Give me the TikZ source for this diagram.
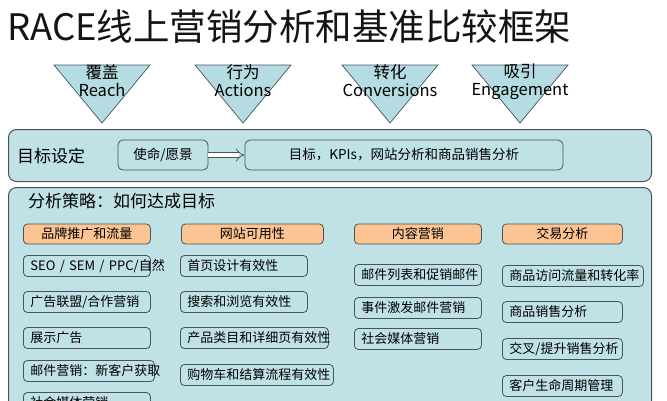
\documentclass[tikz,border=0pt]{standalone}
\usepackage{fontspec}
\setmainfont{Noto Sans CJK SC}
\usetikzlibrary{arrows.meta}

\begin{document}
\begin{tikzpicture}[x=1pt, y=-1pt,
  tri/.style={draw=edge, fill=trifill, line width=0.7pt, line join=miter},
  trilabel/.style={align=center, inner sep=0pt, anchor=north, font=\fontsize{16.5}{18}\selectfont},
  panel/.style={draw=edge, fill=panelfill, line width=1pt, rounded corners=8pt, inner sep=0pt},
  goalbox/.style={draw=edge, fill=panelfill, line width=0.8pt, rounded corners=5pt, minimum height=30pt, inner sep=0pt, font=\fontsize{13.5}{13.5}\selectfont},
  head/.style={draw=edge, fill=headfill, line width=0.8pt, rounded corners=4pt, anchor=west, minimum height=20pt, minimum width=#1, inner sep=0pt, font=\fontsize{13}{13}\selectfont},
  item/.style={draw=edge, fill=panelfill, line width=0.8pt, rounded corners=4pt, anchor=west, minimum height=21pt, inner xsep=7pt, inner ysep=0pt, text width=#1, align=left, font=\fontsize{13}{13}\selectfont},
  dblarrow/.style={draw=edge, line width=0.7pt, double=white, double distance=4pt, -{Implies}}
]

% === Colors ===
\definecolor{edge}{RGB}{70,84,90}
\definecolor{panelfill}{RGB}{192,226,230}
\definecolor{trifill}{RGB}{180,220,226}
\definecolor{headfill}{RGB}{251,196,146}
\definecolor{titlecol}{RGB}{20,20,20}

\useasboundingbox (0,0) rectangle (667,400);
\clip (0,0) rectangle (667,400);

% === Title ===
\node[anchor=west, inner sep=0pt, text=titlecol, font=\fontsize{36.5}{36.5}\selectfont] (title) at (7,27) {RACE线上营销分析和基准比较框架};

% === RACE triangles ===
\foreach \cx/\zh/\en/\nm in {102/覆盖/Reach/reach, 243/行为/Actions/actions, 390/转化/Conversions/conversions, 520/吸引/Engagement/engagement}{
  \draw[tri] (\cx-48,65) -- (\cx+48,65) -- (\cx,123) -- cycle;
  \node[trilabel] (\nm) at (\cx,64) {\zh\\\en};
}

% === Goal setting panel ===
\node[panel, anchor=north west, minimum width=643pt, minimum height=52pt] (setting) at (8,129) {};
\node[anchor=west, inner sep=0pt, font=\fontsize{17}{17}\selectfont] (settingtitle) at (17,156) {目标设定};
\node[goalbox, minimum width=90pt] (mission) at (163,155) {使命/愿景};
\node[goalbox, minimum width=318pt] (goals) at (404,155) {目标，KPIs，网站分析和商品销售分析};
\draw[dblarrow] (mission) -- (goals);

% === Strategy panel ===
\node[panel, anchor=north west, minimum width=643pt, minimum height=260pt] (strategy) at (8,187) {};
\node[anchor=west, inner sep=0pt, font=\fontsize{17}{17}\selectfont] (strategytitle) at (28,201) {分析策略：如何达成目标};

% headers
\node[head=127pt] (brand) at (23,234) {品牌推广和流量};
\node[head=142pt] (usability) at (181,234) {网站可用性};
\node[head=127pt] (content) at (354,234) {内容营销};
\node[head=120pt] (trade) at (502,234) {交易分析};

% brand column
\node[item=113pt] (seo) at (23,266) {\mbox{SEO / SEM / PPC/自然}};
\node[item=113pt] (alliance) at (23,302) {广告联盟/合作营销};
\node[item=113pt] (display) at (23,338) {展示广告};
\node[item=117pt] (newmail) at (23,371) {邮件营销：新客户获取};
\node[item=113pt] (social) at (23,403) {社会媒体营销};

% usability column
\node[item=113pt] (home) at (180,266) {首页设计有效性};
\node[item=113pt] (search) at (180,302) {搜索和浏览有效性};
\node[item=134pt] (product) at (180,338) {产品类目和详细页有效性};
\node[item=139pt] (checkout) at (180,375) {购物车和结算流程有效性};

% content column
\node[item=113pt] (maillist) at (354,275) {邮件列表和促销邮件};
\node[item=113pt] (trigger) at (354,308) {事件激发邮件营销};
\node[item=113pt] (media) at (354,339) {社会媒体营销};

% trade column
\node[item=127pt] (traffic) at (502,276) {商品访问流量和转化率};
\node[item=106pt] (sales) at (502,312) {商品销售分析};
\node[item=106pt] (cross) at (502,349) {交叉/提升销售分析};
\node[item=106pt] (lifecycle) at (502,386) {客户生命周期管理};

\end{tikzpicture}
\end{document}
